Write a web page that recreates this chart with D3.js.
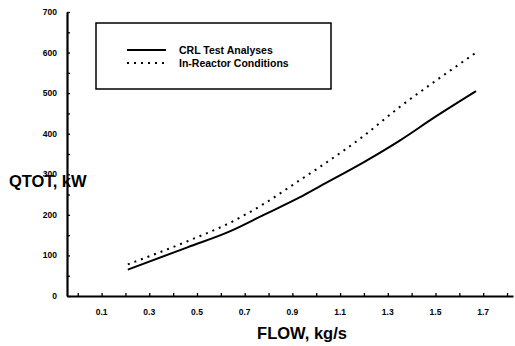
<!DOCTYPE html>
<html>
<head>
<meta charset="utf-8">
<script src="https://cdn.jsdelivr.net/npm/d3@7"></script>
<style>
  body { margin: 0; background: #fff; }
  svg { display: block; font-family: "Liberation Sans", Arial, sans-serif; }
</style>
</head>
<body>
<div id="chart"></div>
<script>
// values
const crlFlow = [0.21, 0.46, 0.64, 0.78, 0.93, 1.02, 1.2, 1.35, 1.5, 1.67];
const crlQtot = [65, 120, 160, 200, 243, 272, 330, 383, 442, 505];
const reactorFlow = [0.21, 0.46, 0.64, 0.78, 0.93, 1.02, 1.2, 1.35, 1.5, 1.67];
const reactorQtot = [78, 135, 181, 227, 285, 320, 395, 466, 530, 600];

const xTickLabels = [0.1, 0.3, 0.5, 0.7, 0.9, 1.1, 1.3, 1.5, 1.7];
const yTickLabels = [0, 100, 200, 300, 400, 500, 600, 700];
const legendNames = ['CRL Test Analyses', 'In-Reactor Conditions'];

const width = 515, height = 346;

const svg = d3.select('#chart').append('svg')
  .attr('width', width)
  .attr('height', height);

const x = d3.scaleLinear().domain([-0.045, 1.825]).range([67, 513]);
const y = d3.scaleLinear().domain([0, 700]).range([296, 12]);

// axes
const xAxis = d3.axisBottom(x)
  .tickValues(d3.range(0, 1.81, 0.1))
  .tickSizeInner(-3).tickSizeOuter(0)
  .tickFormat('');
const gx = svg.append('g').attr('transform', `translate(0,${y(0)})`).call(xAxis);
gx.select('.domain').attr('stroke-width', 2.2);
gx.selectAll('.tick line').attr('stroke-width', 1.3);

svg.append('g').selectAll('text')
  .data(xTickLabels)
  .enter().append('text')
  .attr('x', d => x(d))
  .attr('y', 315)
  .attr('text-anchor', 'middle')
  .attr('font-size', 8.5)
  .attr('font-weight', 'bold')
  .text(d => d3.format('.1f')(d));

const yAxis = d3.axisLeft(y)
  .tickValues(d3.range(0, 701, 50))
  .tickSizeInner(-3).tickSizeOuter(0)
  .tickFormat('');
const gy = svg.append('g').attr('transform', `translate(${x.range()[0]},0)`).call(yAxis);
gy.select('.domain').attr('stroke-width', 2.2);
gy.selectAll('.tick line').attr('stroke-width', 1.3);

svg.append('g').selectAll('text')
  .data(yTickLabels)
  .enter().append('text')
  .attr('x', 57)
  .attr('y', d => y(d) + 3)
  .attr('text-anchor', 'end')
  .attr('font-size', 8.5)
  .attr('font-weight', 'bold')
  .text(d => d);

// axis titles
svg.append('text')
  .attr('x', 302).attr('y', 339)
  .attr('text-anchor', 'middle')
  .attr('font-size', 16.5)
  .attr('font-weight', 'bold')
  .text('FLOW, kg/s');

svg.append('text')
  .attr('x', 9).attr('y', 187)
  .attr('font-size', 16.5)
  .attr('font-weight', 'bold')
  .text('QTOT, kW');

// curves
const line = d3.line()
  .x(d => x(d[0]))
  .y(d => y(d[1]))
  .curve(d3.curveMonotoneX);

svg.append('path')
  .datum(d3.zip(crlFlow, crlQtot))
  .attr('fill', 'none')
  .attr('stroke', '#000')
  .attr('stroke-width', 2)
  .attr('d', line);

svg.append('path')
  .datum(d3.zip(reactorFlow, reactorQtot))
  .attr('fill', 'none')
  .attr('stroke', '#000')
  .attr('stroke-width', 2)
  .attr('stroke-dasharray', '2,5')
  .attr('d', line);

// legend
const legend = svg.append('g');
legend.append('rect')
  .attr('x', 96).attr('y', 23)
  .attr('width', 235).attr('height', 66)
  .attr('fill', 'none')
  .attr('stroke', '#000')
  .attr('stroke-width', 1.5);

legend.selectAll('line')
  .data(legendNames)
  .enter().append('line')
  .attr('x1', 127).attr('x2', 166)
  .attr('y1', (d, i) => 50 + i * 13)
  .attr('y2', (d, i) => 50 + i * 13)
  .attr('stroke', '#000')
  .attr('stroke-width', 2)
  .attr('stroke-dasharray', (d, i) => i ? '2,5' : null);

legend.selectAll('text')
  .data(legendNames)
  .enter().append('text')
  .attr('x', 179)
  .attr('y', (d, i) => 54 + i * 13)
  .attr('font-size', 10.5)
  .attr('font-weight', 'bold')
  .text(d => d);
</script>
</body>
</html>
